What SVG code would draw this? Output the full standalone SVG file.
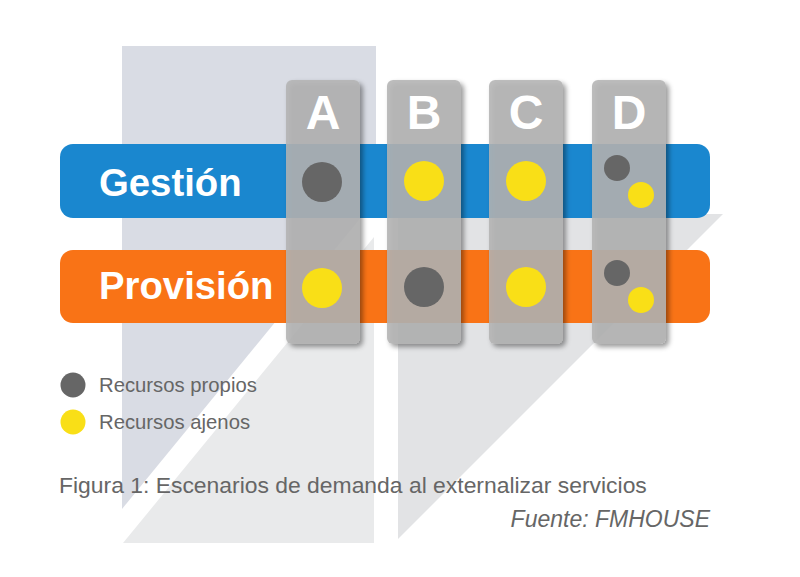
<svg xmlns="http://www.w3.org/2000/svg" width="800" height="577" viewBox="0 0 800 577">
  <defs>
    <filter id="shadow" x="-20%" y="-10%" width="150%" height="130%">
      <feDropShadow dx="3" dy="3" stdDeviation="2.5" flood-color="#000" flood-opacity="0.45"/>
    </filter>
    <style>
      .bar-label { font-family: "Liberation Sans", Arial, sans-serif; font-weight: bold; font-size: 38.3px; fill: #ffffff; }
      .col-letter { font-family: "Liberation Sans", Arial, sans-serif; font-weight: bold; font-size: 48px; fill: #ffffff; text-anchor: middle; }
      .col { fill: #b3b3b3; fill-opacity: 0.87; filter: url(#shadow); }
      .own { fill: #666666; }
      .ext { fill: #f9df17; }
      .legend { font-family: "Liberation Sans", Arial, sans-serif; font-size: 20.3px; fill: #666666; }
      .caption { font-family: "Liberation Sans", Arial, sans-serif; font-size: 22.9px; fill: #666666; }
      .source { font-family: "Liberation Sans", Arial, sans-serif; font-size: 23px; font-style: italic; fill: #666666; text-anchor: end; }
    </style>
  </defs>
  <rect width="800" height="577" fill="#ffffff"/>

  <!-- background logo shapes -->
  <g id="background">
    <polygon points="122,46 376,46 376,199 122,509" fill="#d9dce4"/>
    <polygon points="123,543 374,543 374,237" fill="#e9eaeb"/>
    <polygon points="398,214 723,214 398,539" fill="#e2e3e5"/>
  </g>

  <!-- bars -->
  <g id="bar-gestion">
    <rect x="60" y="144" width="650" height="74" rx="13" fill="#1a87cf"/>
    <text class="bar-label" x="99" y="196">Gestión</text>
  </g>
  <g id="bar-provision">
    <rect x="60" y="250" width="650" height="73" rx="13" fill="#f97316"/>
    <text class="bar-label" x="99" y="299">Provisión</text>
  </g>

  <!-- columns -->
  <g id="col-A">
    <rect class="col" x="286" y="80" width="74" height="264" rx="6"/>
    <text class="col-letter" x="323" y="129">A</text>
    <circle class="own" cx="322" cy="182" r="20"/>
    <circle class="ext" cx="322" cy="288" r="20"/>
  </g>
  <g id="col-B">
    <rect class="col" x="387" y="80" width="74" height="264" rx="6"/>
    <text class="col-letter" x="424" y="129">B</text>
    <circle class="ext" cx="424" cy="181" r="20"/>
    <circle class="own" cx="424" cy="287" r="20"/>
  </g>
  <g id="col-C">
    <rect class="col" x="489" y="80" width="74" height="264" rx="6"/>
    <text class="col-letter" x="526" y="129">C</text>
    <circle class="ext" cx="526" cy="181" r="20"/>
    <circle class="ext" cx="526" cy="287" r="20"/>
  </g>
  <g id="col-D">
    <rect class="col" x="592" y="80" width="74" height="264" rx="6"/>
    <text class="col-letter" x="629" y="129">D</text>
    <circle class="own" cx="617" cy="168" r="13"/>
    <circle class="ext" cx="641" cy="195" r="13"/>
    <circle class="own" cx="617" cy="273" r="13"/>
    <circle class="ext" cx="641" cy="300" r="13"/>
  </g>

  <g id="connectors"></g>

  <!-- legend -->
  <g id="legend">
    <circle class="own" cx="73" cy="385" r="12.5"/>
    <text class="legend" x="99" y="392">Recursos propios</text>
    <circle class="ext" cx="73" cy="422" r="12.5"/>
    <text class="legend" x="99" y="429">Recursos ajenos</text>
  </g>

  <g id="caption">
    <text class="caption" x="59" y="493">Figura 1: Escenarios de demanda al externalizar servicios</text>
    <text class="source" x="710" y="527">Fuente: FMHOUSE</text>
  </g>
</svg>
